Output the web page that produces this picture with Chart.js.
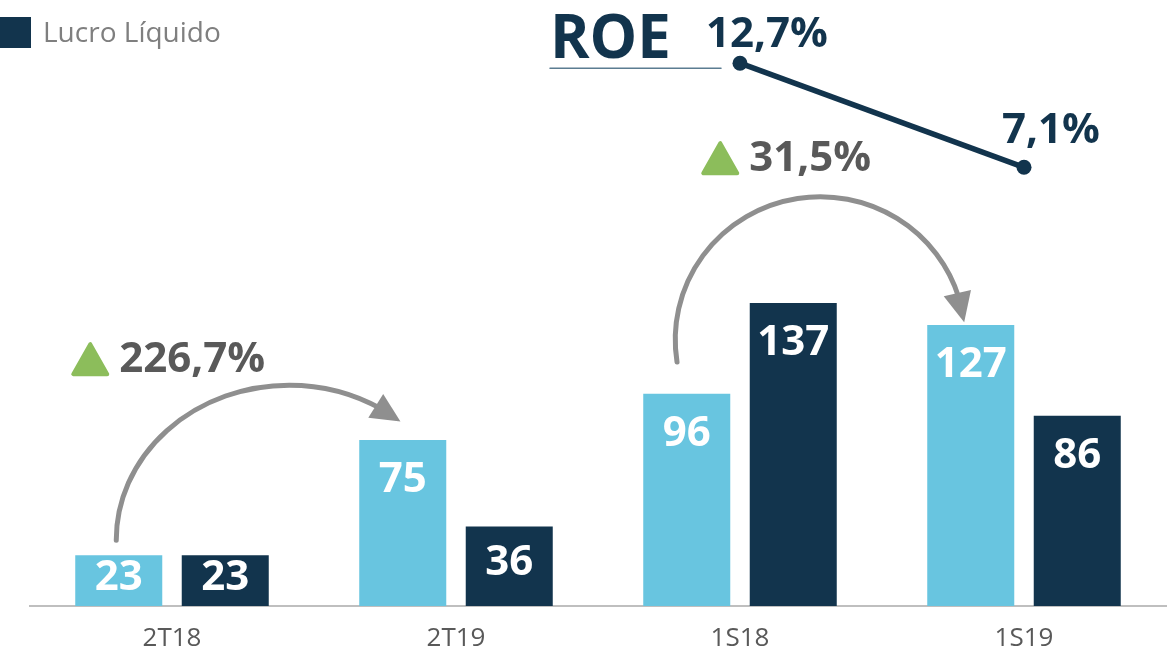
<!DOCTYPE html>
<html>
<head>
<meta charset="utf-8">
<script src="https://cdn.jsdelivr.net/npm/chart.js@4.4.0/dist/chart.umd.min.js"></script>
<style>
  html, body { margin: 0; padding: 0; background: #fff; }
  #wrap { width: 1174px; height: 657px; }
</style>
</head>
<body>
<div id="wrap"><canvas id="lucroChart" width="1174" height="657"></canvas></div>
<script>
// Dados do grafico
const periodos = ["2T18", "2T19", "1S18", "1S19"];
const serieClara = [23, 75, 96, 127];
const serieEscura = [23, 36, 137, 86];
const roe = [null, null, 12.7, 7.1];
const variacoes = ["226,7%", "31,5%"];
const legendaTexto = "Lucro Líquido";
const roeTitulo = "ROE";

// Cores
const azulEscuro = "#12344d";
const azulClaro = "#68c5e0";
const cinzaSeta = "#8f8f8f";
const cinzaTexto = "#595959";
const verde = "#8cbd5b";
const fonte = "'Open Sans', 'DejaVu Sans', sans-serif";

const fmtPct = v => v.toFixed(1).replace(".", ",") + "%";

// setas curvas entre as barras claras (posicoes relativas a barra de origem)
const setas = [
  { de: 0, cx: 170.5, cy: -15, rx: 173, ry: 155, ini: 180, base: 300, ponta: 310, tx: -47.5, ty: -196 },
  { de: 2, cx: 133.5, cy: -54, rx: 145, ry: 143, ini: 171, base: 341, ponta: 353, tx: 14.5, ty: -235.5 }
];
const roeOffsetY = [null, null, -16, -24];

const rad = a => a * Math.PI / 180;

const anotacoes = {
  id: "anotacoes",
  afterDatasetsDraw(chart) {
    const c = chart.ctx;
    const claras = chart.getDatasetMeta(0).data;
    const escuras = chart.getDatasetMeta(1).data;
    const linha = chart.getDatasetMeta(2).data;
    c.save();

    // valores dentro das barras
    c.fillStyle = "#fff";
    c.font = "bold 42px " + fonte;
    c.textAlign = "center";
    c.textBaseline = "middle";
    [claras, escuras].forEach((barras, d) => {
      const valores = d === 0 ? serieClara : serieEscura;
      barras.forEach((b, i) => {
        const y = Math.min(b.y + 40, (b.y + b.base) / 2 - 3);
        c.fillText(String(valores[i]), b.x, y);
      });
    });

    // legenda
    c.fillStyle = azulEscuro;
    c.fillRect(0, 17, 31, 31);
    c.fillStyle = "#7f7f7f";
    c.font = "28px " + fonte;
    c.textAlign = "left";
    c.textBaseline = "alphabetic";
    c.fillText(legendaTexto, 43, 42);

    // setas
    setas.forEach((s, k) => {
      const b = claras[s.de];
      const cx = b.x + s.cx, cy = b.y + s.cy;
      c.strokeStyle = cinzaSeta;
      c.fillStyle = cinzaSeta;
      c.lineWidth = 5;
      c.lineCap = "round";
      c.beginPath();
      c.ellipse(cx, cy, s.rx, s.ry, 0, rad(s.ini), rad(s.base + 2));
      c.stroke();
      const px = cx + s.rx * Math.cos(rad(s.ponta)), py = cy + s.ry * Math.sin(rad(s.ponta));
      const bx = cx + s.rx * Math.cos(rad(s.base)), by = cy + s.ry * Math.sin(rad(s.base));
      const len = Math.hypot(px - bx, py - by);
      const ux = (px - bx) / len, uy = (py - by) / len;
      c.beginPath();
      c.moveTo(px, py);
      c.lineTo(bx - uy * 14, by + ux * 14);
      c.lineTo(bx + uy * 14, by - ux * 14);
      c.closePath();
      c.fill();

      // triangulo verde + variacao
      const L = b.x + s.tx, my = b.y + s.ty;
      c.fillStyle = verde;
      c.strokeStyle = verde;
      c.lineWidth = 4;
      c.lineJoin = "round";
      c.beginPath();
      c.moveTo(L + 2, my + 15);
      c.lineTo(L + 36, my + 15);
      c.lineTo(L + 19, my - 15);
      c.closePath();
      c.fill();
      c.stroke();
      c.fillStyle = cinzaTexto;
      c.font = "bold 42px " + fonte;
      c.textAlign = "left";
      c.textBaseline = "middle";
      c.fillText(variacoes[k], L + 48, my + 1);
    });

    // ROE: titulo, sublinhado e rotulos
    const p0 = linha[2];
    c.fillStyle = azulEscuro;
    c.font = "bold 60px " + fonte;
    c.textAlign = "left";
    c.textBaseline = "alphabetic";
    c.fillText(roeTitulo, p0.x - 190, p0.y - 5);
    c.strokeStyle = "#5b7c91";
    c.lineWidth = 1.5;
    c.beginPath();
    c.moveTo(p0.x - 190, p0.y + 5);
    c.lineTo(p0.x - 19, p0.y + 5);
    c.stroke();

    c.font = "bold 42px " + fonte;
    c.textAlign = "center";
    linha.forEach((p, i) => {
      if (roe[i] === null) return;
      c.fillText(fmtPct(roe[i]), p.x + 27, p.y + roeOffsetY[i]);
    });

    c.restore();
  }
};

new Chart(document.getElementById("lucroChart"), {
  type: "bar",
  data: {
    labels: periodos,
    datasets: [
      { label: "Anterior", data: serieClara, backgroundColor: azulClaro,
        categoryPercentage: 0.75, barPercentage: 0.817 },
      { label: legendaTexto, data: serieEscura, backgroundColor: azulEscuro,
        categoryPercentage: 0.75, barPercentage: 0.817 },
      { type: "line", label: roeTitulo, data: roe, yAxisID: "y2",
        borderColor: azulEscuro, backgroundColor: azulEscuro, borderWidth: 5.5,
        pointRadius: 7.5, pointHoverRadius: 7.5, pointBorderWidth: 0 }
    ]
  },
  options: {
    responsive: false,
    animation: false,
    layout: { autoPadding: false, padding: { left: 30, right: 8, top: 0, bottom: 0 } },
    plugins: { legend: { display: false }, tooltip: { enabled: false } },
    scales: {
      x: {
        grid: { display: false, drawTicks: false },
        border: { display: true, color: "#bfbfbf", width: 2 },
        ticks: { color: cinzaTexto, font: { family: fonte, size: 26 }, padding: 17 },
        afterFit(s) { s.height = 51; }
      },
      y: { display: false, min: 0, max: 274 },
      y2: { display: false, min: -16.5, max: 16.1 }
    }
  },
  plugins: [anotacoes]
});
</script>
</body>
</html>
